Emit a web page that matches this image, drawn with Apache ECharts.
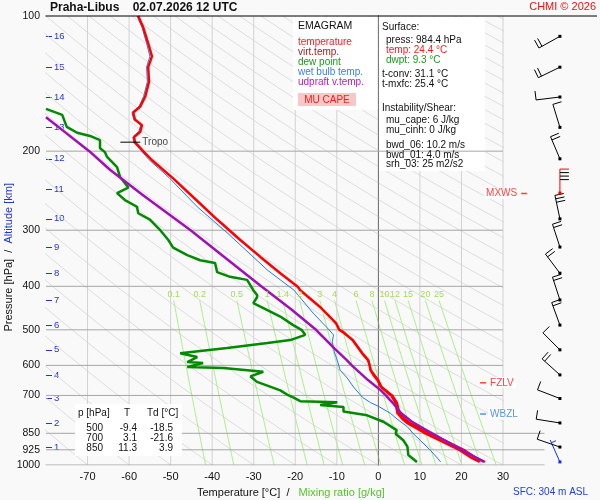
<!DOCTYPE html>
<html>
<head>
<meta charset="utf-8">
<title>Emagram Praha-Libus</title>
<script src="https://cdn.jsdelivr.net/npm/echarts@6/dist/echarts.min.js"></script>
<style>
  html, body { margin: 0; padding: 0; background: #f9f9f9; }
  #main { width: 600px; height: 500px; }
</style>
</head>
<body>
<div id="main"></div>
<script>
// sounding Praha-Libus 02.07.2026 12 UTC

var FF = '"Liberation Sans", Arial, sans-serif'

// axes
var tempTicks = [-70, -60, -50, -40, -30, -20, -10, 0, 10, 20, 30]
var pressLevels = [100, 200, 300, 400, 500, 600, 700, 850, 925, 1000]
var kmLevels = [1, 2, 3, 4, 5, 6, 7, 8, 9, 10, 11, 12, 13, 14, 15, 16]
var kmPress = [912, 806, 711, 630, 554, 488, 429, 374, 327, 283, 243, 208, 177, 151.5, 130, 111]
var mixRatios = [0.1, 0.2, 0.5, 1, 1.4, 2, 3, 4, 6, 8, 10, 12, 15, 20, 25]

// temperature
var tempP = [984.4, 960, 927, 881, 850, 836, 807, 790, 767, 726, 700, 690, 670, 647, 630, 615, 600, 584, 564, 540, 527, 506, 500, 483, 444, 408, 401, 374, 344, 315, 284, 253, 230, 209, 200, 191, 186, 181, 175, 170, 164, 159, 151, 140, 130, 123, 115, 106, 100]
var tempT = [24.4, 22.1, 19.6, 14.8, 11.3, 10.0, 7.0, 5.8, 4.6, 4.1, 3.1, 2.2, 0.6, -0.2, -1.2, -1.9, -2.1, -2.5, -3.9, -5.4, -6.2, -8.4, -9.4, -10.2, -14.1, -18.8, -19.4, -23.6, -28.4, -33.3, -38.8, -44.6, -49.4, -54.6, -56.6, -58.6, -58.8, -57.3, -56.9, -58.6, -59.0, -57.3, -56.1, -55.2, -55.4, -54.5, -55.4, -56.6, -57.8]

// virtual temperature (lower part, hidden under temperature above)
var virtP = [984.4, 960, 927, 881, 850, 836, 807, 790, 767, 726, 700, 670, 647, 615, 584, 564, 527, 500]
var virtT = [25.7, 23.3, 20.8, 16.0, 12.3, 10.9, 7.7, 6.4, 5.1, 4.5, 3.4, 0.8, 0.0, -1.8, -2.4, -3.8, -6.1, -9.3]

// dew point
var dewP = [984.4, 977, 950, 910, 881, 853, 836, 801, 775, 760, 743, 735, 725, 721, 707, 700, 682, 653, 635, 620, 608, 605, 593, 590, 575, 564, 549, 535, 527, 513, 500, 488, 467, 452, 436, 423, 418, 408, 387, 381, 372, 355, 350, 341, 328, 315, 300, 284, 275, 266, 257, 248, 241, 228, 217, 206, 201, 197, 189, 185, 182, 176.6, 166, 161]
var dewT = [9.3, 8.9, 7.2, 7.0, 6.0, 4.2, 4.4, 1.2, -2.7, -8.4, -8.4, -14.0, -9.9, -18.8, -20.5, -21.6, -23.6, -29.2, -30.8, -27.7, -37.3, -46.0, -42.2, -46.0, -43.6, -47.7, -36.4, -26.7, -21.2, -17.6, -18.5, -20.5, -23.6, -26.7, -30.1, -29.2, -29.2, -30.1, -31.6, -35.7, -38.8, -39.3, -42.9, -46.0, -49.4, -50.6, -52.5, -55.0, -57.8, -58.1, -61.0, -62.9, -60.2, -62.2, -62.9, -65.3, -65.8, -67.0, -67.0, -69.4, -72.5, -75.0, -76.1, -80.0]

// wet bulb temperature
var wbP = [984.4, 960, 927, 881, 850, 822, 790, 767, 740, 726, 707, 670, 640, 615, 584, 560, 532, 513, 495, 459, 408, 387, 368, 304, 266, 229, 209, 200, 191, 186, 181, 175, 170, 164, 159, 151, 140, 130, 123, 115, 106, 100]
var wbT = [15.0, 14.0, 12.5, 10.1, 8.3, 7.0, 4.5, 2.9, 0.0, -1.9, -3.8, -6.0, -7.5, -9.2, -9.9, -10.6, -11.1, -10.8, -12.3, -15.7, -20.3, -23.6, -26.7, -36.4, -43.6, -50.4, -55.2, -57.0, -58.9, -59.1, -57.7, -57.2, -58.9, -59.3, -57.6, -56.5, -55.6, -55.8, -55.0, -55.8, -56.9, -58.1]

// updraft virtual temperature
var parcelP = [984.4, 930, 875, 830, 800, 767, 726, 700, 682, 647, 600, 584, 550, 500, 450, 400, 350, 300, 250, 220, 200, 180, 168]
var parcelT = [25.4, 20.5, 15.3, 10.9, 8.0, 5.5, 3.4, 1.8, 0.6, -2.5, -6.4, -7.6, -10.6, -15.0, -21.0, -28.2, -36.1, -45.2, -56.8, -64.6, -69.6, -75.9, -80.0]

// winds at km levels (+ surface), direction deg, speed kt
var windP = [984.4, 912, 806, 711, 630, 554, 488, 429, 374, 327, 283, 248, 208, 177, 151.5, 130, 111]
var windDir = [336, 289, 279, 291, 312, 315, 340, 342, 323, 342, 348, 360, 337, 343, 263, 244, 241]
var windSpd = [5, 10, 10, 10, 20, 10, 20, 20, 20, 20, 30, 40, 20, 10, 10, 20, 20]
var windKind = [1, 0, 0, 0, 0, 0, 0, 0, 0, 0, 0, 2, 0, 0, 0, 0, 0]

// level markers
var tropoP = 191
var fzlvP = 656
var wbzlP = 770
var mxwsP = 248.5

function pairs(ts, ps) {
  return ts.map(function (t, i) { return [t, ps[i]] })
}

// reference lines of the diagram
function mixT(w, p) {
  var e = w * p / (622 + w)
  var l = Math.log(e / 6.112)
  return 243.5 * l / (17.67 - l)
}
function adiabat(t1000) {
  var pts = []
  for (var i = 0; i <= 40; i++) {
    var p = 100 * Math.pow(10, i / 40)
    pts.push([(t1000 + 273.15) * Math.pow(p / 1000, 0.286) - 273.15, p])
  }
  return pts
}

function plain(data, color, width, z, axis) {
  return {
    type: 'line', data: data, xAxisIndex: axis ? 1 : 0, yAxisIndex: axis ? 2 : 0,
    symbol: 'none', silent: true, animation: false, z: z,
    lineStyle: { color: color, width: width }
  }
}

var series = []

for (var t1000 = -80; t1000 <= 320; t1000 += 10) {
  series.push(plain(adiabat(t1000), '#d6d6d6', 0.8, 1))
}
mixRatios.forEach(function (w) {
  var pts = []
  for (var p = 430; p <= 1000; p += 57) pts.push([mixT(w, p), p])
  series.push(plain(pts, '#a2ee7e', 0.9, 1))
})
tempTicks.forEach(function (t) {
  if (t === 0) series.push(plain([[t, 100], [t, 1000]], '#8a8a8a', 1, 3))
  else series.push(plain([[t, 100], [t, 1000]], '#d2d2d2', 1, 1))
})
pressLevels.forEach(function (p) {
  if (p === 100) return
  series.push(plain([[-80, p], [30, p]], '#a6a6a6', 1, 3))
  if (p >= 850) series.push(plain([[30, p], [40, p]], '#a6a6a6', 1, 3, true))
})

// mixing ratio labels at the top of each line
series.push({
  type: 'custom', silent: true, animation: false, z: 10, zlevel: 1, clip: false,
  data: mixRatios.map(function (w) { return [mixT(w, 430), 430, w] }),
  renderItem: function (params, api) {
    var pt = api.coord([api.value(0), api.value(1)])
    return {
      type: 'text', x: pt[0], y: pt[1] - 1,
      style: {
        text: String(api.value(2)), fill: '#a6dc58', align: 'center', verticalAlign: 'bottom',
        font: '9px ' + FF
      }
    }
  }
})

// sounding curves
series.push(plain(pairs(dewT, dewP), '#008a00', 2.5, 5))
series.push(plain(pairs(wbT, wbP), '#2a78ea', 1, 5))
series.push(plain(pairs(virtT, virtP), '#e80000', 2, 5))
series.push(plain(pairs(tempT, tempP), '#ff0000', 2.5, 6))
series.push(plain(pairs(parcelT, parcelP), '#a010b4', 2.5, 7))

// tropopause
series.push(plain([[-62.1, tropoP], [-57.3, tropoP]], '#000', 1, 8))
series.push({
  type: 'scatter', symbolSize: 0, silent: true, z: 8, data: [[-57.3, tropoP]],
  label: { show: true, position: 'right', distance: 2, formatter: 'Tropo', color: '#111', fontSize: 10, fontFamily: FF }
})

// FZLV / WBZL / MXWS markers
function marker(name, t, p, color, side, axis) {
  return {
    type: 'scatter', symbol: 'rect', symbolSize: [6, 1.5], silent: true, z: 9,
    xAxisIndex: axis ? 1 : 0, yAxisIndex: axis ? 2 : 0,
    itemStyle: { color: color }, data: [[t, p]],
    label: {
      show: true, position: side, distance: 2, formatter: name, color: color,
      fontSize: 10, fontFamily: FF, backgroundColor: '#fff', padding: [1, 2, 0, 2]
    }
  }
}
series.push(marker('FZLV', 25.2, fzlvP, '#ff1010', 'right'))
series.push(marker('WBZL', 25.2, wbzlP, '#2a78ea', 'right'))
series.push(marker('MXWS', 35.1, mxwsP, '#ff1010', 'left', true))

// wind barbs
series.push({
  type: 'custom', xAxisIndex: 1, yAxisIndex: 2, silent: true, animation: false, z: 9,
  data: windP.map(function (p, i) { return [43.7, p, windDir[i], windSpd[i], windKind[i]] }),
  renderItem: function (params, api) {
    var pt = api.coord([api.value(0), api.value(1)])
    var d = api.value(2) * Math.PI / 180
    var spd = api.value(3)
    var kind = api.value(4)
    var ux = Math.sin(d), uy = -Math.cos(d)
    var px = -uy, py = ux
    var L = 24
    var ex = pt[0] + ux * L, ey = pt[1] + uy * L
    var col = kind === 1 ? '#1030ee' : '#000'
    var kids = [{
      type: 'line', shape: { x1: pt[0], y1: pt[1], x2: ex, y2: ey },
      style: { stroke: kind === 2 ? '#ff0000' : col, lineWidth: 1 }
    }]
    var full = Math.floor(spd / 10)
    var half = spd % 10 >= 5
    var pos = 0
    for (var i = 0; i < full; i++) {
      var bx = ex - ux * pos, by = ey - uy * pos
      kids.push({
        type: 'line', shape: { x1: bx, y1: by, x2: bx + px * 9, y2: by + py * 9 },
        style: { stroke: (kind === 2 && i === 0) ? '#ff0000' : col, lineWidth: 1 }
      })
      pos += 3.5
    }
    if (half) {
      if (full === 0) pos = 3
      var hx = ex - ux * pos, hy = ey - uy * pos
      kids.push({
        type: 'line', shape: { x1: hx, y1: hy, x2: hx + px * 5, y2: hy + py * 5 },
        style: { stroke: col, lineWidth: 1 }
      })
    }
    kids.push({
      type: 'rect', shape: { x: pt[0] - 1.5, y: pt[1] - 1.5, width: 3, height: 3 },
      style: { fill: kind === 2 ? '#ff0000' : col }
    })
    return { type: 'group', children: kids }
  }
})

function nearest(arr, v) {
  var best = 0
  for (var i = 1; i < arr.length; i++) {
    if (Math.abs(arr[i] - v) < Math.abs(arr[best] - v)) best = i
  }
  return best
}

function txt(s, x, y, color, size, align, weight) {
  return {
    type: 'text', x: x, y: y, z: 20, silent: true,
    style: {
      text: s, fill: color || '#111', align: align || 'left', verticalAlign: 'middle',
      font: (weight || 'normal') + ' ' + (size || 10) + 'px ' + FF
    }
  }
}

var graphics = [
  { type: 'rect', z: 2, silent: true, shape: { x: 293, y: 17, width: 85, height: 93 }, style: { fill: '#fff' } },
  { type: 'rect', z: 2, silent: true, shape: { x: 379, y: 17, width: 106, height: 154 }, style: { fill: '#fff' } },
  { type: 'rect', z: 12, silent: true, shape: { x: 75, y: 404, width: 107, height: 52 }, style: { fill: '#fff' } },
  { type: 'rect', z: 13, silent: true, shape: { x: 298, y: 93, width: 58, height: 13 }, style: { fill: '#f8c8c8' } },
  { type: 'line', z: 20, silent: true, shape: { x1: 45.5, y1: 16, x2: 597, y2: 16 }, style: { stroke: '#000', lineWidth: 1 } },

  txt('Praha-Libus    02.07.2026 12 UTC', 50, 8, '#111', 12, 'left', 'bold'),
  txt('CHMI \u00a9 2026', 596, 7, '#ee1111', 11, 'right'),

  txt('EMAGRAM', 298, 26, '#111', 10.5),
  txt('temperature', 298, 42, '#ff1a1a', 10),
  txt('virt.temp.', 298, 52, '#a52020', 10),
  txt('dew point', 298, 62, '#1a9a1a', 10),
  txt('wet bulb temp.', 298, 72, '#3b7ee6', 10),
  txt('udpraft v.temp.', 298, 82, '#b41cc0', 10),
  txt('MU CAPE', 327, 100, '#ff1a1a', 10, 'center'),

  txt('Surface:', 382, 27, '#111', 10),
  txt('press: 984.4 hPa', 386, 40, '#111', 10),
  txt('temp: 24.4 \u00b0C', 386, 50, '#ff1a1a', 10),
  txt('dwpt: 9.3 \u00b0C', 386, 60, '#1a9a1a', 10),
  txt('t-conv: 31.1 \u00b0C', 382, 74, '#111', 10),
  txt('t-mxfc: 25.4 \u00b0C', 382, 84, '#111', 10),
  txt('Instability/Shear:', 382, 108, '#111', 10),
  txt('mu_cape: 6 J/kg', 386, 120, '#111', 10),
  txt('mu_cinh: 0 J/kg', 386, 130, '#111', 10),
  txt('bwd_06: 10.2 m/s', 386, 145, '#111', 10),
  txt('bwd_01: 4.0 m/s', 386, 155, '#111', 10),
  txt('srh_03: 25 m2/s2', 386, 164, '#111', 10),

  txt('p [hPa]', 78, 413, '#111', 10),
  txt('T', 127, 413, '#111', 10, 'center'),
  txt('Td [\u00b0C]', 147, 413, '#111', 10),
  txt('500', 103, 428, '#111', 10, 'right'),
  txt('-9.4', 137, 428, '#111', 10, 'right'),
  txt('-18.5', 173, 428, '#111', 10, 'right'),
  txt('700', 103, 438, '#111', 10, 'right'),
  txt('3.1', 137, 438, '#111', 10, 'right'),
  txt('-21.6', 173, 438, '#111', 10, 'right'),
  txt('850', 103, 448, '#111', 10, 'right'),
  txt('11.3', 137, 448, '#111', 10, 'right'),
  txt('3.9', 173, 448, '#111', 10, 'right'),

  {
    type: 'text', x: 197, y: 493, z: 20, silent: true,
    style: {
      text: '{a|Temperature [\u00b0C]  /   }{b|Mixing ratio [g/kg]}',
      verticalAlign: 'middle', font: '11px ' + FF,
      rich: { a: { fill: '#111', font: '11px ' + FF }, b: { fill: '#55c52a', font: '11px ' + FF } }
    }
  },
  txt('SFC: 304 m ASL', 513, 492, '#2040e0', 10)
]

var option = {
  backgroundColor: '#f9f9f9',
  animation: false,
  textStyle: { fontFamily: FF },
  grid: [
    { left: 46, top: 16, width: 457, height: 449, outerBoundsMode: 'none', containLabel: false },
    { left: 503, top: 16, width: 97, height: 449, outerBoundsMode: 'none', containLabel: false }
  ],
  xAxis: [{
    gridIndex: 0, type: 'value', min: -80, max: 30, interval: 10,
    axisLine: { show: false }, axisTick: { show: false }, splitLine: { show: false },
    axisLabel: {
      margin: 6, color: '#111', fontSize: 11, fontFamily: FF,
      formatter: function (v) { return tempTicks.indexOf(v) >= 0 ? String(v) : '' }
    }
  }, {
    gridIndex: 1, type: 'value', min: 30, max: 53.35, show: false
  }],
  yAxis: [{
    gridIndex: 0, type: 'log', logBase: 10, min: 100, max: 1000, inverse: true,
    axisLine: { show: true, lineStyle: { color: '#000', width: 1 } },
    axisTick: { show: false }, splitLine: { show: false },
    axisLabel: {
      customValues: pressLevels, margin: 6, color: '#111', fontSize: 10.5, fontFamily: FF,
      formatter: function (v) { return String(Math.round(v)) }
    },
    name: '{p|Pressure [hPa]}  /  {k|Altitude [km]}           ',
    nameLocation: 'middle', nameGap: 32, nameMoveOverlap: false,
    nameTextStyle: {
      fontSize: 11, fontFamily: FF,
      rich: { p: { color: '#111', fontSize: 11 }, k: { color: '#2233dd', fontSize: 11 } }
    }
  }, {
    gridIndex: 0, type: 'log', logBase: 10, min: 100, max: 1000, inverse: true, position: 'left',
    axisLine: { show: false }, splitLine: { show: false },
    axisTick: { show: true, inside: true, length: 6, customValues: kmPress, lineStyle: { color: '#2233dd', width: 1 } },
    axisLabel: {
      inside: true, margin: 8, customValues: kmPress, color: '#2233dd', fontSize: 9.5, fontFamily: FF,
      formatter: function (v) { return String(kmLevels[nearest(kmPress, v)]) }
    }
  }, {
    gridIndex: 1, type: 'log', logBase: 10, min: 100, max: 1000, inverse: true, show: false
  }],
  graphic: graphics,
  series: series
}

var chart = echarts.init(document.getElementById('main'))
chart.setOption(option)
</script>
</body>
</html>
